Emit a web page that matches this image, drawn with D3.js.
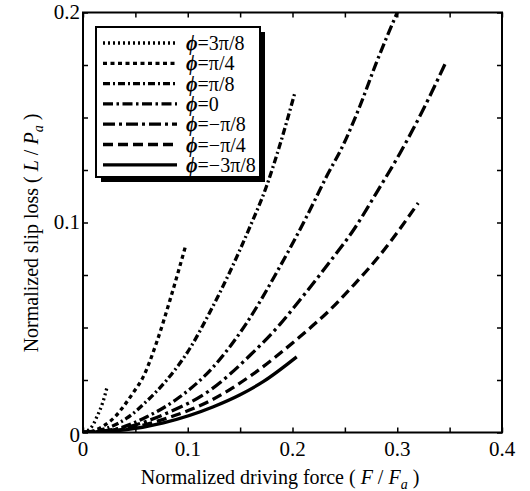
<!DOCTYPE html>
<html>
<head>
<meta charset="utf-8">
<script src="https://cdn.jsdelivr.net/npm/d3@7"></script>
<style>
  body { margin: 0; background: #fff; }
  text { font-family: "Liberation Serif", "Times New Roman", serif; fill: #000; }
</style>
</head>
<body>
<div id="viz"></div>
<script>
// curve readings (F/Fa, L/Pa), one pair of arrays per phi
var labels = ["3\u03c0/8", "\u03c0/4", "\u03c0/8", "0", "\u2212\u03c0/8", "\u2212\u03c0/4", "\u22123\u03c0/8"];

var f_3pi8 = [0, 0.005, 0.010, 0.013, 0.016, 0.019, 0.023];
var l_3pi8 = [0, 0.0010, 0.0040, 0.0072, 0.0105, 0.0145, 0.0217];

var f_pi4 = [0, 0.010, 0.021, 0.030, 0.0385, 0.048, 0.0576, 0.070, 0.083, 0.098];
var l_pi4 = [0, 0.0008, 0.0036, 0.0072, 0.0123, 0.019, 0.0266, 0.0425, 0.063, 0.089];

var f_pi8 = [0, 0.020, 0.0417, 0.061, 0.080, 0.102, 0.121, 0.139, 0.159, 0.175, 0.188, 0.2024];
var l_pi8 = [0, 0.0016, 0.0068, 0.0150, 0.025, 0.0400, 0.0572, 0.0752, 0.0975, 0.117, 0.137, 0.162];

var f_0 = [0, 0.030, 0.061, 0.0926, 0.124, 0.156, 0.188, 0.2135, 0.2326, 0.2485, 0.264, 0.280, 0.300];
var l_0 = [0, 0.0015, 0.0075, 0.017, 0.031, 0.052, 0.079, 0.1028, 0.122, 0.137, 0.155, 0.176, 0.2];

var f_mpi8 = [0, 0.040, 0.080, 0.121, 0.160, 0.188, 0.204, 0.236, 0.2597, 0.280, 0.3026, 0.325, 0.3465];
var l_mpi8 = [0, 0.0023, 0.0092, 0.0200, 0.0370, 0.0515, 0.0612, 0.0815, 0.0975, 0.114, 0.133, 0.154, 0.1764];

var f_mpi4 = [0, 0.040, 0.080, 0.121, 0.160, 0.207, 0.236, 0.258, 0.2835, 0.304, 0.320];
var l_mpi4 = [0, 0.0017, 0.0068, 0.0150, 0.027, 0.0456, 0.0585, 0.070, 0.0845, 0.098, 0.1093];

var f_m3pi8 = [0, 0.040, 0.0767, 0.1245, 0.150, 0.172, 0.204];
var l_m3pi8 = [0, 0.0012, 0.0046, 0.0123, 0.0180, 0.0242, 0.036];

var xTicks = [0, 0.1, 0.2, 0.3, 0.4];
var yTicks = [0, 0.1, 0.2];

var seriesF = [f_3pi8, f_pi4, f_pi8, f_0, f_mpi8, f_mpi4, f_m3pi8];
var seriesL = [l_3pi8, l_pi4, l_pi8, l_0, l_mpi8, l_mpi4, l_m3pi8];
var dashes = ["2,3", "4,3.5", "7,3,2,3", "10,3.5,2.5,3.5", "12,4,3,4", "10,5", null];

var W = 530, H = 491;
var x0 = 83, x1 = 502, yTop = 12.5, yBot = 432.5;

var svg = d3.select("#viz").append("svg")
    .attr("width", W)
    .attr("height", H);

var x = d3.scaleLinear().domain([0, 0.4]).range([x0, x1]);
var y = d3.scaleLinear().domain([0, 0.2]).range([yBot, yTop]);

svg.append("clipPath").attr("id", "clip")
  .append("rect")
    .attr("x", x0).attr("y", yTop)
    .attr("width", x1 - x0).attr("height", yBot - yTop);

// inward ticks on all four sides
function ticksOnly(axis, g, vals, len){
    g.call(axis.tickValues(vals).tickSize(-len).tickFormat(""));
    g.select(".domain").remove();
    g.selectAll(".tick line").attr("stroke", "#000").attr("stroke-width", 1.5);
}
var xt = d3.range(0, 0.401, 0.05);
var yt = d3.range(0, 0.201, 0.025);
ticksOnly(d3.axisBottom(x), svg.append("g").attr("transform", "translate(0," + yBot + ")"), xt, 5);
ticksOnly(d3.axisTop(x), svg.append("g").attr("transform", "translate(0," + yTop + ")"), xt, 5);
ticksOnly(d3.axisLeft(y), svg.append("g").attr("transform", "translate(" + x0 + ",0)"), yt, 5);
ticksOnly(d3.axisRight(y), svg.append("g").attr("transform", "translate(" + x1 + ",0)"), yt, 5);

svg.append("rect")
    .attr("x", x0).attr("y", yTop)
    .attr("width", x1 - x0).attr("height", yBot - yTop)
    .style("fill", "none")
    .style("stroke", "#000")
    .style("stroke-width", 2);

// tick labels
svg.selectAll(".xl").data(xTicks).enter().append("text")
    .attr("x", function(d){ return x(d); })
    .attr("y", 456)
    .attr("text-anchor", "middle")
    .style("font-size", "21px")
    .text(function(d){ return d === 0 ? "0" : d3.format(".1f")(d); });

svg.selectAll(".yl").data(yTicks).enter().append("text")
    .attr("x", 80)
    .attr("y", function(d){ return y(d) + (d === 0 ? 9 : 6); })
    .attr("text-anchor", "end")
    .style("font-size", "21px")
    .text(function(d){ return d === 0 ? "0" : d3.format(".1f")(d); });

// axis titles
var xl = svg.append("text")
    .attr("x", 280).attr("y", 484)
    .attr("text-anchor", "middle")
    .style("font-size", "20px");
xl.append("tspan").text("Normalized driving force ( ");
xl.append("tspan").style("font-style", "italic").text("F");
xl.append("tspan").text(" / ");
xl.append("tspan").style("font-style", "italic").text("F");
xl.append("tspan").style("font-style", "italic").style("font-size", "14px").attr("dy", 5).text("a");
xl.append("tspan").attr("dy", -5).text(" )");

var yl = svg.append("text")
    .attr("transform", "translate(38,233) rotate(-90)")
    .attr("text-anchor", "middle")
    .style("font-size", "20px");
yl.append("tspan").text("Normalized slip loss ( ");
yl.append("tspan").style("font-style", "italic").text("L");
yl.append("tspan").text(" / ");
yl.append("tspan").style("font-style", "italic").text("P");
yl.append("tspan").style("font-style", "italic").style("font-size", "14px").attr("dy", 5).text("a");
yl.append("tspan").attr("dy", -5).text(" )");

// curves
var line = d3.line()
    .x(function(d){ return x(d[0]); })
    .y(function(d){ return y(d[1]); })
    .curve(d3.curveMonotoneX);

var plot = svg.append("g").attr("clip-path", "url(#clip)");
for (var i = 0; i < seriesF.length; i++){
    var pts = d3.zip(seriesF[i], seriesL[i]);
    plot.append("path")
        .attr("d", line(pts))
        .style("fill", "none")
        .style("stroke", "#000")
        .style("stroke-width", 3.3)
        .style("stroke-dasharray", dashes[i]);
}

// legend with drop shadow
var lx = 96, ly = 27, lw = 164, lh = 150;
svg.append("rect")
    .attr("x", lx + 5).attr("y", ly + 5)
    .attr("width", lw).attr("height", lh)
    .style("fill", "#000");
svg.append("rect")
    .attr("x", lx).attr("y", ly)
    .attr("width", lw).attr("height", lh)
    .style("fill", "#fff")
    .style("stroke", "#000")
    .style("stroke-width", 2);

for (var j = 0; j < labels.length; j++){
    var ry = 43 + j * 20.3;
    svg.append("line")
        .attr("x1", 103).attr("x2", 177)
        .attr("y1", ry).attr("y2", ry)
        .style("stroke", "#000")
        .style("stroke-width", 3.3)
        .style("stroke-dasharray", dashes[j]);
    var t = svg.append("text")
        .attr("x", 186).attr("y", ry + 7)
        .style("font-size", "20px");
    t.append("tspan").style("font-style", "italic").style("font-weight", "bold").text("\u03d5");
    t.append("tspan").text("=" + labels[j]);
}
</script>
</body>
</html>
